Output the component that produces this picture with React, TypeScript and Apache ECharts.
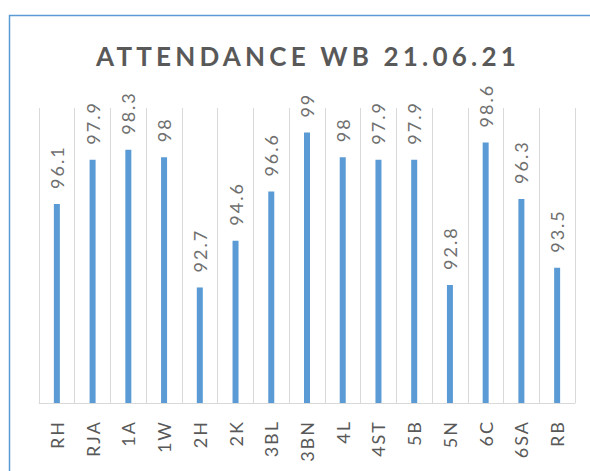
import React, { useEffect, useRef } from "react";
import * as echarts from "echarts";

const categories = ["RH", "RJA", "1A", "1W", "2H", "2K", "3BL", "3BN", "4L", "4ST", "5B", "5N", "6C", "6SA", "RB"];
const attendance = [96.1, 97.9, 98.3, 98, 92.7, 94.6, 96.6, 99, 98, 97.9, 97.9, 92.8, 98.6, 96.3, 93.5];
const titleText = "ATTENDANCE WB 21.06.21";

export default function App() {
  const ref = useRef<HTMLDivElement>(null);
  useEffect(() => {
    document.body.style.margin = "0";
    const chart = echarts.init(ref.current!, null, { renderer: "svg" });
    chart.setOption({
      animation: false,
      backgroundColor: "#ffffff",
      title: {
        text: titleText,
        left: 91,
        top: 38,
        textStyle: { fontFamily: "Lato", fontWeight: "bold", fontSize: 26, color: "#595959" },
      },
      graphic: [
        {
          type: "polyline",
          shape: { points: [[9.5, 480], [9.5, 15.5], [600, 15.5]] },
          style: { stroke: "#5B9BD5", lineWidth: 1.5, fill: "none" },
          silent: true,
        },
      ],
      grid: { left: 39, right: 15, top: 108, bottom: 68 },
      xAxis: {
        type: "category",
        data: categories,
        boundaryGap: true,
        axisTick: { show: false },
        axisLine: { lineStyle: { color: "#d9d9d9", width: 1 } },
        splitLine: { show: true, interval: 0, lineStyle: { color: "#d9d9d9", width: 1 } },
        axisLabel: {
          interval: 0,
          rotate: 90,
          margin: 17,
          fontFamily: "Lato",
          fontSize: 18,
          color: "#595959",
        },
      },
      yAxis: {
        type: "value",
        min: 88,
        max: 100,
        show: false,
        splitLine: { show: false },
      },
      series: [
        {
          type: "bar",
          data: attendance,
          barWidth: 6,
          itemStyle: { color: "#5B9BD5" },
          label: {
            show: true,
            position: "top",
            rotate: 90,
            align: "left",
            verticalAlign: "middle",
            distance: 15,
            fontFamily: "Lato",
            fontSize: 18,
            color: "#6f6f6f",
          },
        },
      ],
    });
    return () => chart.dispose();
  }, []);
  return (
    <>
      <style>{`.chartbox text { letter-spacing: 2px; } .chartbox text[style*="bold"] { letter-spacing: 4.2px; }`}</style>
      <div className="chartbox" ref={ref} style={{ width: 590, height: 471 }} />
    </>
  );
}
